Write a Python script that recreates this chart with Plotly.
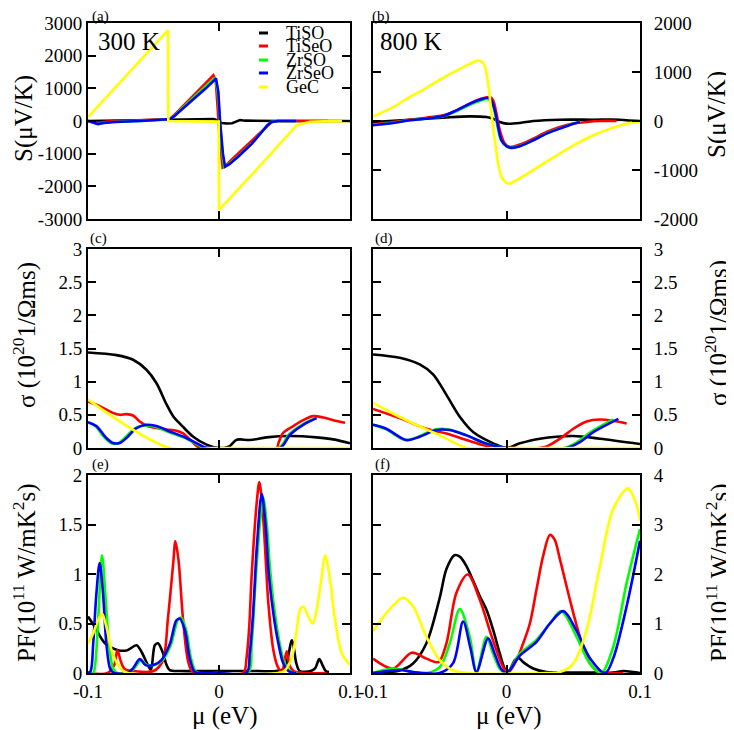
import plotly.graph_objects as go

# ---------------- data (mu in eV) ----------------
series_names = ["TiSO", "TiSeO", "ZrSO", "ZrSeO", "GeC"]
series_colors = ["#000000", "#ff0000", "#00ff00", "#0000ff", "#ffff00"]

# (a) Seebeck, 300 K
a_tiso_x = [-0.1, -0.08, -0.06, -0.04, -0.02, -0.004, -0.001, 0.002, 0.006, 0.01, 0.013, 0.016, 0.02, 0.03, 0.05, 0.07, 0.1]
a_tiso_y = [0, 10, 30, 50, 60, 60, 20, -60, -75, -70, -20, 30, 10, 0, 0, 0, 0]
a_tiseo_x = [-0.1, -0.095, -0.092, -0.088, -0.08, -0.06, -0.045, -0.0376, -0.035, -0.03, -0.02, -0.01, -0.0043, -0.0025, -0.001, 0.001, 0.0028, 0.006, 0.01, 0.02, 0.03, 0.036, 0.04, 0.045, 0.06, 0.083]
a_tiseo_y = [0, -40, -60, -30, 0, 20, 40, 60, 150, 350, 760, 1160, 1400, 1250, 300, -800, -1420, -1330, -1170, -800, -430, -180, -40, 0, 0, 0]
a_zrso_x = [-0.1, -0.096, -0.093, -0.088, -0.08, -0.06, -0.045, -0.037, -0.034, -0.03, -0.02, -0.01, -0.003, -0.001, 0.0005, 0.0025, 0.004, 0.008, 0.015, 0.025, 0.033, 0.037, 0.04, 0.045, 0.059]
a_zrso_y = [0, -40, -90, -60, -30, 0, 30, 60, 150, 320, 700, 1060, 1330, 900, 0, -1000, -1410, -1300, -1060, -690, -320, -120, -25, 0, 0]
a_zrseo_x = [-0.1, -0.096, -0.0924, -0.088, -0.08, -0.06, -0.045, -0.037, -0.034, -0.03, -0.02, -0.01, -0.0023, -0.0005, 0.0008, 0.003, 0.0046, 0.008, 0.015, 0.025, 0.033, 0.037, 0.04, 0.045, 0.059]
a_zrseo_y = [0, -40, -95, -60, -30, 0, 30, 60, 150, 300, 650, 1000, 1300, 900, 0, -1000, -1400, -1320, -1080, -700, -330, -130, -30, 0, 0]
a_gec_x = [-0.1, -0.09, -0.0389, -0.0387, -0.02, -0.0002, 0.0, 0.03, 0.0593, 0.0695, 0.08, 0.1]
a_gec_y = [120, 560, 2780, 0, -20, -20, -2720, -1430, -127, -25, -10, 0]

# (b) Seebeck, 800 K
b_tiso_x = [-0.1, -0.0725, -0.0475, -0.0275, -0.015, -0.01, -0.005, 0.0, 0.01, 0.02, 0.04, 0.065, 0.085, 0.09, 0.1]
b_tiso_y = [-20, 27, 68, 95, 81, 47, -20, -54, -40, 0, 27, 27, 27, 14, 0]
b_tiseo_x = [-0.1, -0.085, -0.0725, -0.06, -0.0475, -0.0375, -0.03, -0.0225, -0.01625, -0.0125, -0.01, -0.0075, -0.005, -0.00125, 0.0025, 0.01, 0.02, 0.03, 0.04, 0.05, 0.06, 0.07, 0.0825]
b_tiseo_y = [-68, -20, 27, 68, 115, 217, 319, 420, 475, 488, 420, 150, -190, -461, -529, -481, -359, -224, -122, -54, -20, 0, 0]
b_zrso_x = [-0.1, -0.085, -0.0725, -0.06, -0.0475, -0.0375, -0.0275, -0.02, -0.0145, -0.0115, -0.009, -0.0065, -0.004, 0.0, 0.003, 0.01, 0.02, 0.03, 0.04, 0.05, 0.055]
b_zrso_y = [-80, -35, 15, 45, 95, 200, 330, 410, 450, 400, 200, -140, -400, -520, -545, -510, -390, -255, -150, -50, -15]
b_zrseo_x = [-0.1, -0.085, -0.0725, -0.06, -0.0475, -0.0375, -0.0275, -0.02, -0.01375, -0.01125, -0.00875, -0.00625, -0.00375, 0.0, 0.00375, 0.01, 0.02, 0.03, 0.04, 0.05, 0.055]
b_zrseo_y = [-88, -40, 14, 47, 102, 217, 353, 434, 475, 420, 217, -122, -393, -515, -549, -515, -393, -258, -156, -54, -20]
b_gec_x = [-0.1, -0.085, -0.0725, -0.06, -0.0475, -0.035, -0.025, -0.0205, -0.017, -0.01375, -0.01125, -0.00875, -0.00625, -0.00375, 0.0, 0.0025, 0.0075, 0.015, 0.0275, 0.04, 0.0525, 0.065, 0.0775, 0.09, 0.1]
b_gec_y = [95, 285, 488, 678, 881, 1064, 1200, 1234, 1166, 760, 150, -393, -868, -1139, -1261, -1275, -1207, -1085, -868, -664, -461, -292, -156, -54, -20]

# (c) conductivity, 300 K
c_tiso_x = [-0.1, -0.0783, -0.0656, -0.0554, -0.0478, -0.0401, -0.035, -0.028, -0.0197, -0.0095, -0.0006, 0.0037, 0.0083, 0.013, 0.016, 0.0236, 0.0363, 0.0542, 0.0745, 0.0873, 0.1]
c_tiso_y = [1.44, 1.40, 1.33, 1.18, 0.98, 0.66, 0.48, 0.33, 0.17, 0.05, 0.0, 0.0, 0.03, 0.12, 0.13, 0.12, 0.16, 0.18, 0.16, 0.13, 0.07]
c_tiseo_x = [-0.1, -0.0911, -0.0809, -0.0758, -0.0707, -0.0656, -0.0605, -0.0554, -0.0478, -0.0401, -0.0325, -0.0274, -0.0223, -0.0172, -0.0134, 0.0, 0.044, 0.0455, 0.049, 0.0567, 0.0643, 0.072, 0.0796, 0.0873, 0.0962]
c_tiseo_y = [0.70, 0.63, 0.53, 0.50, 0.51, 0.49, 0.40, 0.34, 0.30, 0.28, 0.26, 0.22, 0.13, 0.03, 0.0, 0.0, 0.0, 0.08, 0.23, 0.33, 0.42, 0.48, 0.46, 0.42, 0.38]
c_zrso_x = [-0.1, -0.0945, -0.087, -0.082, -0.077, -0.072, -0.064, -0.0564, -0.0488, -0.0386, -0.0258, -0.0131, -0.0093, 0.0, 0.0455, 0.0532, 0.0633, 0.0735]
c_zrso_y = [0.39, 0.33, 0.15, 0.07, 0.07, 0.15, 0.30, 0.34, 0.32, 0.24, 0.15, 0.02, 0.0, 0.0, 0.0, 0.2, 0.35, 0.45]
c_zrseo_x = [-0.1, -0.0936, -0.086, -0.0809, -0.0758, -0.0707, -0.0631, -0.0554, -0.0478, -0.0376, -0.0248, -0.0121, -0.0083, 0.0, 0.0465, 0.0542, 0.0643, 0.0745]
c_zrseo_y = [0.39, 0.33, 0.15, 0.075, 0.075, 0.15, 0.30, 0.35, 0.33, 0.25, 0.15, 0.02, 0.0, 0.0, 0.0, 0.2, 0.35, 0.45]
c_gec_x = [-0.1, -0.0376, 0.0, 0.1]
c_gec_y = [0.73, 0.0, 0.0, 0.0]

# (d) conductivity, 800 K
d_tiso_x = [-0.1, -0.08, -0.065, -0.055, -0.045, -0.035, -0.025, -0.01, 0.0, 0.01, 0.025, 0.05, 0.07, 0.1]
d_tiso_y = [1.41, 1.36, 1.26, 1.11, 0.80, 0.47, 0.24, 0.07, 0.0, 0.07, 0.14, 0.18, 0.14, 0.06]
d_tiseo_x = [-0.1, -0.08, -0.06, -0.045, -0.03, -0.015, 0.0, 0.028, 0.04, 0.05, 0.06, 0.07, 0.08, 0.09]
d_tiseo_y = [0.59, 0.45, 0.29, 0.22, 0.12, 0.03, 0.0, 0.01, 0.14, 0.29, 0.40, 0.43, 0.41, 0.37]
d_zrso_x = [-0.1, -0.09, -0.076, -0.066, -0.0535, -0.0435, -0.031, -0.016, 0.0, 0.043, 0.053, 0.063, 0.08]
d_zrso_y = [0.35, 0.28, 0.12, 0.17, 0.28, 0.28, 0.20, 0.07, 0.0, 0.0, 0.09, 0.24, 0.43]
d_zrseo_x = [-0.1, -0.09, -0.075, -0.065, -0.0525, -0.0425, -0.03, -0.015, 0.0, 0.045, 0.055, 0.065, 0.0838]
d_zrseo_y = [0.35, 0.29, 0.12, 0.17, 0.27, 0.27, 0.19, 0.066, 0.0, 0.0, 0.09, 0.24, 0.44]
d_gec_x = [-0.1, -0.085, -0.07, -0.05, -0.035, -0.03, 0.0, 0.1]
d_gec_y = [0.68, 0.52, 0.37, 0.19, 0.04, 0.0, 0.0, 0.0]

# (e) power factor, 300 K
e_tiso_x = [-0.1, -0.095, -0.087, -0.077, -0.07, -0.063, -0.059, -0.055, -0.052, -0.049, -0.0466, -0.043, -0.04, -0.0376, -0.03, -0.01, 0.01, 0.03, 0.0435, 0.05, 0.0557, 0.059, 0.0616, 0.07, 0.0735, 0.0765, 0.079, 0.0815, 0.084]
e_tiso_y = [0.57, 0.47, 0.30, 0.23, 0.23, 0.28, 0.21, 0.10, 0.03, 0.28, 0.30, 0.21, 0.08, 0.03, 0.02, 0.02, 0.02, 0.02, 0.02, 0.05, 0.33, 0.10, 0.02, 0.02, 0.05, 0.14, 0.08, 0.02, 0.01]
e_tiseo_x = [-0.1, -0.085, -0.08, -0.0776, -0.075, -0.072, -0.065, -0.05, -0.043, -0.039, -0.035, -0.0333, -0.031, -0.0275, -0.0236, -0.02, 0.0, 0.0186, 0.021, 0.023, 0.025, 0.0288, 0.0308, 0.0338, 0.0377, 0.0415, 0.045, 0.048, 0.0517, 0.054, 0.057, 0.065, 0.082]
e_tiseo_y = [0, 0, 0.08, 0.23, 0.12, 0.04, 0.02, 0.02, 0.12, 0.55, 1.10, 1.33, 1.15, 0.55, 0.12, 0.01, 0, 0, 0.15, 0.45, 1.0, 1.72, 1.93, 1.55, 0.70, 0.23, 0.06, 0.02, 0.22, 0.07, 0.02, 0, 0]
e_zrso_x = [-0.1, -0.096, -0.0944, -0.092, -0.0893, -0.0868, -0.084, -0.081, -0.078, -0.07, -0.0645, -0.0595, -0.055, -0.049, -0.043, -0.0366, -0.0316, -0.029, -0.025, -0.0214, -0.018, -0.015, 0.0, 0.022, 0.025, 0.028, 0.0315, 0.0338, 0.0365, 0.039, 0.0425, 0.0463, 0.05, 0.054, 0.06]
e_zrso_y = [0, 0, 0.1, 0.6, 1.19, 0.8, 0.3, 0.05, 0, 0, 0.05, 0.13, 0.08, 0.08, 0.13, 0.29, 0.53, 0.56, 0.43, 0.15, 0.02, 0, 0, 0, 0.3, 0.95, 1.55, 1.77, 1.5, 1.05, 0.62, 0.3, 0.1, 0.02, 0]
e_zrseo_x = [-0.1, -0.098, -0.096, -0.0936, -0.0911, -0.0885, -0.086, -0.083, -0.08, -0.07, -0.0655, -0.0605, -0.056, -0.05, -0.044, -0.0376, -0.0326, -0.03, -0.026, -0.0224, -0.019, -0.016, 0.0, 0.021, 0.0235, 0.026, 0.029, 0.0326, 0.0355, 0.038, 0.0415, 0.0453, 0.049, 0.053, 0.059]
e_zrseo_y = [0, 0.02, 0.3, 0.8, 1.11, 0.8, 0.3, 0.04, 0, 0, 0.05, 0.14, 0.08, 0.08, 0.13, 0.29, 0.53, 0.55, 0.43, 0.15, 0.02, 0, 0, 0, 0.2, 0.6, 1.3, 1.81, 1.5, 1.0, 0.6, 0.3, 0.1, 0.02, 0]
e_gec_x = [-0.1, -0.096, -0.0924, -0.0893, -0.086, -0.082, -0.078, -0.074, -0.07, 0.045, 0.0498, 0.0555, 0.0593, 0.0619, 0.0644, 0.0682, 0.0715, 0.0746, 0.0784, 0.081, 0.0848, 0.0886, 0.0937, 0.1]
e_gec_y = [0.3, 0.4, 0.53, 0.6, 0.47, 0.23, 0.1, 0.03, 0, 0, 0.02, 0.15, 0.43, 0.64, 0.67, 0.57, 0.5, 0.64, 0.98, 1.19, 0.94, 0.53, 0.2, 0.08]

# (f) power factor, 800 K
f_tiso_x = [-0.1, -0.08, -0.07, -0.06, -0.05, -0.045, -0.039, -0.035, -0.03, -0.02, -0.015, -0.01, -0.005, -0.0012, 0.0012, 0.00625, 0.00875, 0.0125, 0.02, 0.03, 0.06, 0.08, 0.0875, 0.095, 0.1]
f_tiso_y = [0, 0.05, 0.19, 0.6, 1.52, 2.1, 2.38, 2.35, 2.16, 1.55, 1.28, 0.87, 0.39, 0.08, 0.02, 0.26, 0.31, 0.22, 0.09, 0.02, 0.01, 0.01, 0.04, 0.02, 0]
f_tiseo_x = [-0.1, -0.085, -0.071, -0.06, -0.051, -0.045, -0.0375, -0.029, -0.02, -0.011, -0.0025, 0.001, 0.0075, 0.0125, 0.0175, 0.0225, 0.0275, 0.0325, 0.036, 0.04, 0.0475, 0.055, 0.0625, 0.07, 0.0875]
f_tiseo_y = [0.29, 0.09, 0.41, 0.29, 0.22, 0.6, 1.62, 1.99, 1.48, 0.73, 0.12, 0, 0.26, 0.6, 1.0, 1.69, 2.37, 2.79, 2.7, 2.3, 1.48, 0.73, 0.19, 0.02, 0]
f_zrso_x = [-0.1, -0.085, -0.07, -0.06, -0.05, -0.0425, -0.035, -0.0275, -0.0225, -0.015, -0.01, -0.005, 0.0, 0.01, 0.0225, 0.0325, 0.041, 0.0525, 0.0625, 0.071, 0.08, 0.09, 0.1]
f_zrso_y = [0, 0.09, 0.02, 0, 0.12, 0.6, 1.29, 0.73, 0.02, 0.73, 0.39, 0.09, 0, 0.39, 0.67, 1.0, 1.25, 0.73, 0.19, 0, 0.53, 1.82, 2.91]
f_zrseo_x = [-0.1, -0.08, -0.07, -0.05, -0.04, -0.0325, -0.027, -0.0225, -0.0138, -0.009, -0.004, 0.0, 0.01, 0.0225, 0.0325, 0.0425, 0.0525, 0.0625, 0.074, 0.08, 0.09, 0.1]
f_zrseo_y = [0, 0.06, 0.02, 0, 0.2, 1.04, 0.5, 0.02, 0.70, 0.4, 0.08, 0, 0.35, 0.63, 1.0, 1.25, 0.85, 0.3, 0, 0.3, 1.35, 2.67]
f_gec_x = [-0.1, -0.09, -0.0775, -0.07, -0.06, -0.05, -0.04, -0.03, 0.03, 0.04, 0.05, 0.06, 0.07, 0.08, 0.091, 0.0975, 0.1]
f_gec_y = [0.84, 1.21, 1.52, 1.35, 0.73, 0.26, 0.05, 0.0, 0.0, 0.02, 0.19, 0.87, 2.16, 3.32, 3.73, 3.39, 3.08]

# axis ticks
mu_ticks = [-0.1, 0.0, 0.1]
mu_ticktext = ["-0.1", "0", "0.1"]
s300_ticks = [-3000, -2000, -1000, 0, 1000, 2000, 3000]
s800_ticks = [-2000, -1000, 0, 1000, 2000]
sigma_ticks = [0, 0.5, 1, 1.5, 2, 2.5, 3]
pf300_ticks = [0, 0.5, 1, 1.5, 2]
pf800_ticks = [0, 1, 2, 3, 4]

panel_data = [
    ("", "linear", [(a_tiso_x, a_tiso_y), (a_tiseo_x, a_tiseo_y), (a_zrso_x, a_zrso_y), (a_zrseo_x, a_zrseo_y), (a_gec_x, a_gec_y)]),
    ("2", "spline", [(b_tiso_x, b_tiso_y), (b_tiseo_x, b_tiseo_y), (b_zrso_x, b_zrso_y), (b_zrseo_x, b_zrseo_y), (b_gec_x, b_gec_y)]),
    ("3", "spline", [(c_tiso_x, c_tiso_y), (c_tiseo_x, c_tiseo_y), (c_zrso_x, c_zrso_y), (c_zrseo_x, c_zrseo_y), (c_gec_x, c_gec_y)]),
    ("4", "spline", [(d_tiso_x, d_tiso_y), (d_tiseo_x, d_tiseo_y), (d_zrso_x, d_zrso_y), (d_zrseo_x, d_zrseo_y), (d_gec_x, d_gec_y)]),
    ("5", "spline", [(e_tiso_x, e_tiso_y), (e_tiseo_x, e_tiseo_y), (e_zrso_x, e_zrso_y), (e_zrseo_x, e_zrseo_y), (e_gec_x, e_gec_y)]),
    ("6", "spline", [(f_tiso_x, f_tiso_y), (f_tiseo_x, f_tiseo_y), (f_zrso_x, f_zrso_y), (f_zrseo_x, f_zrseo_y), (f_gec_x, f_gec_y)]),
]

# ---------------- figure ----------------
# the page body has an 8px margin, so the figure is drawn 8px smaller and
# all positions below are given in window pixels, shifted by OFF
OFF = 8
W, H = 734 - OFF, 730 - OFF
FONT = "Liberation Serif"

fig = go.Figure()
for suffix, shape, curves in panel_data:
    for (xs, ys), name, col in zip(curves, series_names, series_colors):
        line = dict(color=col, width=2.6, shape=shape)
        if shape == "spline":
            line["smoothing"] = 0.9
        fig.add_trace(go.Scatter(x=xs, y=ys, mode="lines", name=name, line=line,
                                 xaxis="x" + suffix, yaxis="y" + suffix, showlegend=False))

def px_x(p):
    return (p - OFF) / W

def px_y(p):
    return 1 - (p - OFF) / H

xl = [px_x(88), px_x(350)]
xr = [px_x(373), px_x(640)]
yrow = [[px_y(219), px_y(23)], [px_y(448), px_y(249)], [px_y(673), px_y(475)]]

tickfont = dict(family=FONT, size=19, color="black")

def xaxis(dom, anchor, labels):
    return dict(domain=dom, anchor=anchor, range=[-0.1, 0.1], tickvals=mu_ticks, ticktext=mu_ticktext,
                showticklabels=labels, ticks="inside", ticklen=8, tickwidth=2, tickcolor="black",
                showline=True, linewidth=2, linecolor="black", mirror="ticks", showgrid=False,
                zeroline=False, tickfont=tickfont, automargin=False)

def yaxis(dom, anchor, rng, vals, side):
    txt = [("-" + str(abs(v))) if v < 0 else str(v) for v in vals]
    d = dict(domain=dom, anchor=anchor, range=rng, tickvals=vals, ticktext=txt, side=side,
             ticks="inside", ticklen=8, tickwidth=2, tickcolor="black",
             showline=True, linewidth=2, linecolor="black", mirror="ticks", showgrid=False,
             zeroline=False, tickfont=tickfont, automargin=False)
    if side == "right":
        d["ticklabelstandoff"] = 8
    return d

fig.update_layout(
    width=W, height=H, autosize=False,
    margin=dict(l=0, r=0, t=0, b=0, pad=0, autoexpand=False),
    paper_bgcolor="white", plot_bgcolor="white",
    font=dict(family=FONT, color="black"),
    showlegend=False,
    xaxis=xaxis(xl, "y", False), yaxis=yaxis(yrow[0], "x", [-3000, 3000], s300_ticks, "left"),
    xaxis2=xaxis(xr, "y2", False), yaxis2=yaxis(yrow[0], "x2", [-2000, 2000], s800_ticks, "right"),
    xaxis3=xaxis(xl, "y3", False), yaxis3=yaxis(yrow[1], "x3", [0, 3], sigma_ticks, "left"),
    xaxis4=xaxis(xr, "y4", False), yaxis4=yaxis(yrow[1], "x4", [0, 3], sigma_ticks, "right"),
    xaxis5=xaxis(xl, "y5", True), yaxis5=yaxis(yrow[2], "x5", [0, 2], pf300_ticks, "left"),
    xaxis6=xaxis(xr, "y6", True), yaxis6=yaxis(yrow[2], "x6", [0, 4], pf800_ticks, "right"),
)

ann = []
def text(x, y, s, size, angle=0, xanchor="center"):
    ann.append(dict(x=px_x(x), y=px_y(y), xref="paper", yref="paper", text=s, showarrow=False,
                    font=dict(family=FONT, size=size, color="black"), textangle=angle,
                    xanchor=xanchor, yanchor="middle"))

# panel letters
for lab, x, y in [("(a)", 100, 16), ("(b)", 381, 16), ("(c)", 98, 238), ("(d)", 384, 238), ("(e)", 100, 465), ("(f)", 383, 465)]:
    text(x, y, lab, 15)

# temperatures
text(129, 42, "300 K", 25)
text(411, 41, "800 K", 25)

# axis titles
S_title = "S(μV/K)"
sigma_title = "σ (10<sup>20</sup>1/Ωms)"
pf_title = "PF(10<sup>11</sup> W/mK<sup>2</sup>s)"
mu_title = "μ (eV)"
text(24, 119, S_title, 25, -90)
text(717, 115, S_title, 25, -90)
text(24, 335, sigma_title, 25, -90)
text(716, 333, sigma_title, 25, -90)
text(24, 573, pf_title, 25, -90)
text(717, 573, pf_title, 25, -90)
text(224, 716, mu_title, 25)
text(508, 716, mu_title, 25)

# legend (panel a)
shapes = []
legend_rows = [33, 46, 60, 73, 87]
for name, col, yy in zip(series_names, series_colors, legend_rows):
    shapes.append(dict(type="line", xref="paper", yref="paper", x0=px_x(259), x1=px_x(268),
                       y0=px_y(yy), y1=px_y(yy), line=dict(color=col, width=3)))
    text(284, yy, name, 18, 0, "left")

fig.update_layout(annotations=ann, shapes=shapes)
fig.write_html("out.html")
